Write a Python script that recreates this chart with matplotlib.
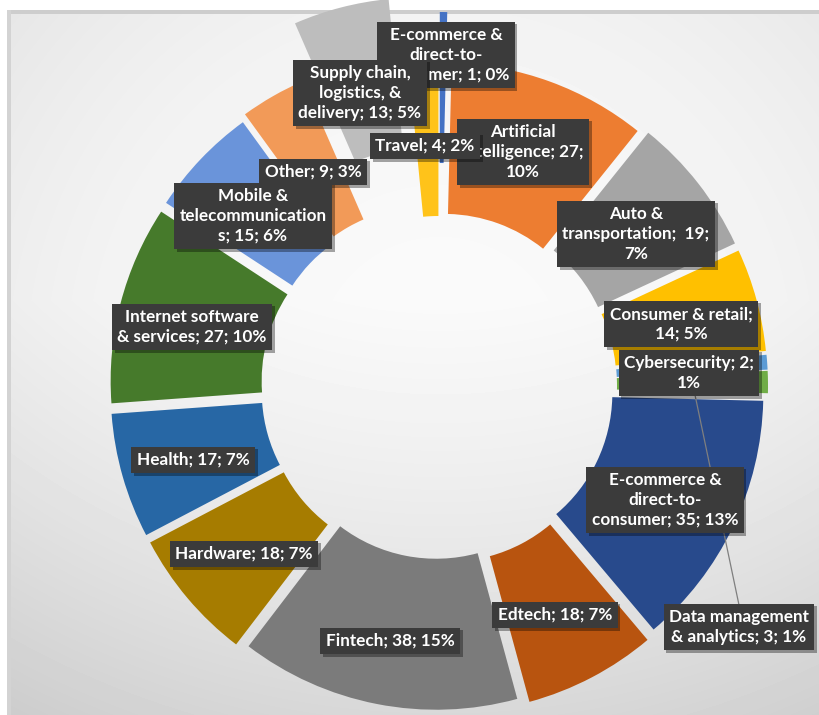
import numpy as np
import matplotlib
matplotlib.use("Agg")
import matplotlib.pyplot as plt
import matplotlib.patheffects as pe
from matplotlib.patches import Rectangle

# ---- data -------------------------------------------------------------
categories = [
    "E-commerce & direct-to-consumer",
    "Artificial intelligence",
    "Auto & transportation",
    "Consumer & retail",
    "Cybersecurity",
    "Data management & analytics",
    "E-commerce & direct-to-consumer",
    "Edtech",
    "Fintech",
    "Hardware",
    "Health",
    "Internet software & services",
    "Mobile & telecommunications",
    "Other",
    "Supply chain, logistics, & delivery",
    "Travel",
]
values = [1, 27, 19, 14, 2, 3, 35, 18, 38, 18, 17, 27, 15, 9, 13, 4]

# label text, wrapped the way the chart wraps it
label_formats = [
    "E-commerce &\ndirect-to-\nconsumer; {v}; {p}%",
    "Artificial\nintelligence; {v};\n{p}%",
    "Auto &\ntransportation;  {v};\n{p}%",
    "Consumer & retail;\n{v}; {p}%",
    "Cybersecurity; {v};\n{p}%",
    "Data management\n& analytics; {v}; {p}%",
    "E-commerce &\ndirect-to-\nconsumer; {v}; {p}%",
    "Edtech; {v}; {p}%",
    "Fintech; {v}; {p}%",
    "Hardware; {v}; {p}%",
    "Health; {v}; {p}%",
    "Internet software\n& services; {v}; {p}%",
    "Mobile &\ntelecommunication\ns; {v}; {p}%",
    "Other; {v}; {p}%",
    "Supply chain,\nlogistics, &\ndelivery; {v}; {p}%",
    "Travel; {v}; {p}%",
]

# ---- styling ----------------------------------------------------------
colors = [
    "#4472C4", "#ED7D31", "#A5A5A5", "#FFC000", "#5B9BD5", "#70AD47",
    "#284A8C", "#B8540F", "#7B7B7B", "#A67C00", "#2767A5", "#467A2B",
    "#6A94DA", "#F29A58", "#BDBDBD", "#FFC31A",
]
explode_px = [65, 15, 20, 20, 20, 20, 17, 20, 15, 20, 20, 20, 20, 25, 82, 12]

W, H = 819, 715
cx, cy_top = 439, 386          # ring centre (pixels from the top-left)
R_out, R_in = 309, 158

# label box centres (pixels from the top-left) and stacking order
label_pos = [
    (446, 55), (523, 152), (636, 234), (681, 324), (689, 373), (739, 627),
    (665, 500), (555, 615), (390, 641), (244, 554), (193, 460), (192, 327),
    (253, 216), (313, 172), (360, 93), (425, 146),
]
draw_order = [0, 14, 1, 15, 2, 3, 4, 6, 5, 7, 8, 9, 10, 11, 13, 12]

fig = plt.figure(figsize=(W / 100, H / 100), dpi=100)
fig.patch.set_facecolor("white")
ax = fig.add_axes([0, 0, 1, 1])

# soft backdrop inside a thin frame
yy, xx = np.mgrid[0:H, 0:W].astype(float)
r = np.hypot(xx - 440, yy - 360)
bg = 250 - 16 * (r / 500) ** 2 - 26 * np.clip((yy - 300) / 415, 0, 1)
bg[:10, :] = 255
bg[:, :7] = 255
bg[10:14, 7:] = 205
bg[10:, 7:11] = 212
bg = np.clip(bg, 0, 255)
ax.imshow(bg, cmap="gray", vmin=0, vmax=255, extent=(0, W, 0, H),
          origin="upper", interpolation="bilinear", zorder=0)

total = sum(values)
cy = H - cy_top
wedges, _ = ax.pie(
    values, colors=colors, startangle=90, counterclock=False,
    radius=R_out, center=(cx, cy), explode=explode_px,
    wedgeprops=dict(width=R_out - R_in, linewidth=0), frame=True,
)
frame_clip = Rectangle((11, 0), W - 11, H - 14, transform=ax.transData)
for w in wedges:
    w.set_zorder(2)
    w.set_clip_path(frame_clip)

# leader line for the data-management slice
angles = 90 - 360 * (np.cumsum(values) - np.array(values) / 2) / total
k = 5
th = np.deg2rad(angles[k])
rm = (R_out + R_in) / 2 + explode_px[k]
lx0, ly0 = cx + rm * np.cos(th), cy + rm * np.sin(th)
bx, by = label_pos[k]
ax.plot([lx0, bx], [ly0, H - by + 22], color="#7f7f7f", lw=0.9, zorder=3)

z = 4
for i in draw_order:
    v = values[i]
    p = int(round(100 * v / total))
    s = label_formats[i].format(v=v, p=p)
    x, y = label_pos[i]
    t = ax.text(x, H - y, s, ha="center", va="center", color="white",
                fontsize=12.3, fontweight="bold", family="Lato",
                linespacing=1.3, zorder=z,
                bbox=dict(boxstyle="square,pad=0.32", fc="#3b3b3b", ec="none"))
    t.get_bbox_patch().set_path_effects(
        [pe.SimplePatchShadow(offset=(2, -2), shadow_rgbFace="black", alpha=0.35),
         pe.Normal()])
    z += 1

ax.set_xlim(0, W)
ax.set_ylim(0, H)
ax.set_aspect("equal")
ax.axis("off")
fig.savefig("out.png", dpi=100, facecolor="white")
